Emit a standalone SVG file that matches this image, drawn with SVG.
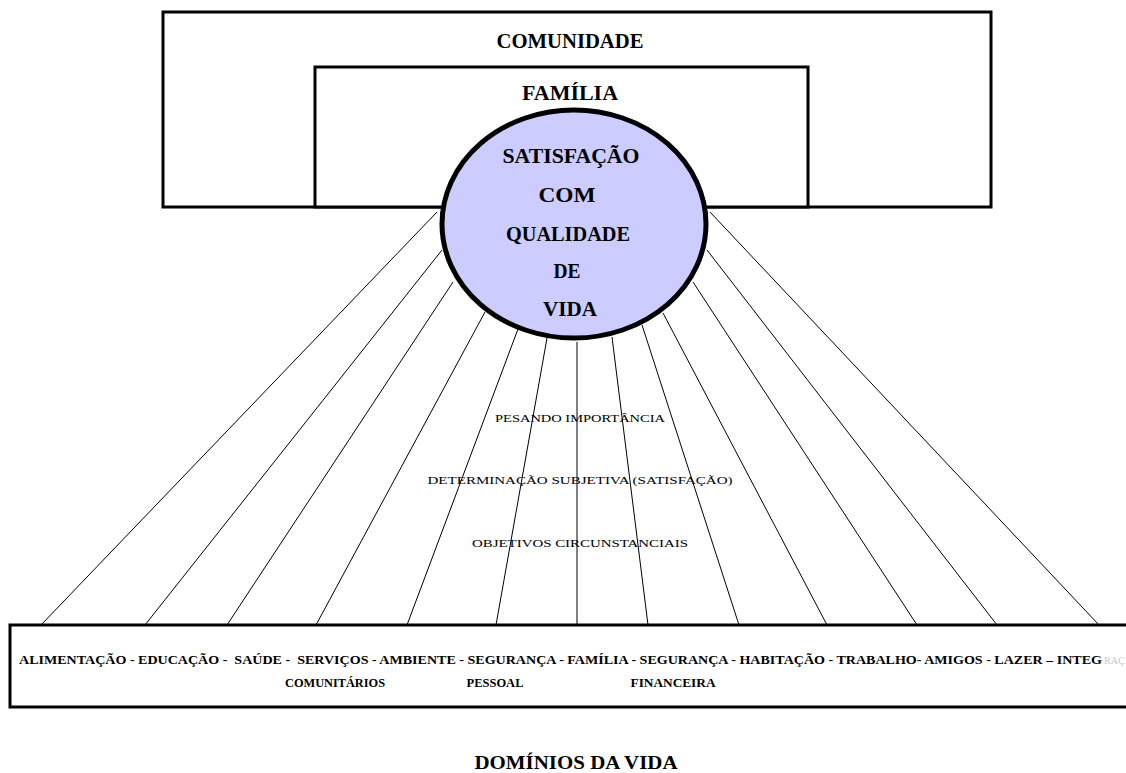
<svg xmlns="http://www.w3.org/2000/svg" width="1126" height="773" viewBox="0 0 1126 773">
<style>
.box{fill:#fff;stroke:#000;stroke-width:3}
.ray{stroke:#000;stroke-width:1;fill:none}
.t{font-family:"Liberation Serif","Times New Roman",serif;fill:#000}
.b{font-weight:bold}
.big{font-size:20px;font-weight:bold;text-anchor:middle}
.mid{font-size:11px;text-anchor:middle}
.dom{font-size:12px;font-weight:bold}
</style>
<g id="comunidade">
<rect class="box" x="163" y="12" width="828" height="195"/>
<text class="t big" x="570" y="48" textLength="147" lengthAdjust="spacingAndGlyphs">COMUNIDADE</text>
</g>
<g id="familia">
<rect class="box" x="315" y="67" width="493" height="140"/>
<text class="t big" x="570" y="100" textLength="96" lengthAdjust="spacingAndGlyphs">FAMÍLIA</text>
</g>
<g id="connectors">
<line class="ray" x1="437" y1="212" x2="41" y2="625"/>
<line class="ray" x1="442" y1="250" x2="145" y2="625"/>
<line class="ray" x1="453" y1="282" x2="227" y2="625"/>
<line class="ray" x1="485" y1="312" x2="316" y2="625"/>
<line class="ray" x1="518" y1="329" x2="407" y2="625"/>
<line class="ray" x1="547" y1="338" x2="496" y2="625"/>
<line class="ray" x1="577" y1="342" x2="577" y2="625"/>
<line class="ray" x1="612" y1="337" x2="648" y2="625"/>
<line class="ray" x1="642" y1="325" x2="739" y2="625"/>
<line class="ray" x1="663" y1="313" x2="827" y2="625"/>
<line class="ray" x1="693" y1="282" x2="917" y2="625"/>
<line class="ray" x1="707" y1="250" x2="997" y2="625"/>
<line class="ray" x1="710" y1="212" x2="1099" y2="625"/>
</g>
<g id="satisfacao">
<ellipse cx="574" cy="224" rx="132" ry="114" fill="#ccccff" stroke="#000" stroke-width="5"/>
<text class="t big" x="571" y="163" textLength="137" lengthAdjust="spacingAndGlyphs">SATISFAÇÃO</text>
<text class="t big" x="567" y="202" textLength="57" lengthAdjust="spacingAndGlyphs">COM</text>
<text class="t big" x="568" y="241" textLength="124" lengthAdjust="spacingAndGlyphs">QUALIDADE</text>
<text class="t big" x="567" y="278" textLength="27" lengthAdjust="spacingAndGlyphs">DE</text>
<text class="t big" x="570" y="316" textLength="54" lengthAdjust="spacingAndGlyphs">VIDA</text>
</g>
<g id="criterios">
<text class="t mid" x="580" y="422" textLength="170" lengthAdjust="spacingAndGlyphs">PESANDO IMPORTÂNCIA</text>
<text class="t mid" x="580" y="484" textLength="305" lengthAdjust="spacingAndGlyphs">DETERMINAÇÃO SUBJETIVA (SATISFAÇÃO)</text>
<text class="t mid" x="580" y="547" textLength="216" lengthAdjust="spacingAndGlyphs">OBJETIVOS CIRCUNSTANCIAIS</text>
</g>
<g id="dominios">
<rect class="box" x="10" y="625" width="1130" height="82"/>
<text class="t dom" x="19" y="664" textLength="1083" lengthAdjust="spacingAndGlyphs" style="white-space:pre">ALIMENTAÇÃO - EDUCAÇÃO -  SAÚDE -  SERVIÇOS - AMBIENTE - SEGURANÇA - FAMÍLIA - SEGURANÇA - HABITAÇÃO - TRABALHO- AMIGOS - LAZER – INTEG</text>
<text class="t" x="1104" y="664" font-size="10" style="fill:#c8c8c8">RAÇ</text>
<text class="t dom" x="335" y="687" text-anchor="middle" textLength="100" lengthAdjust="spacingAndGlyphs">COMUNITÁRIOS</text>
<text class="t dom" x="495" y="687" text-anchor="middle" textLength="57" lengthAdjust="spacingAndGlyphs">PESSOAL</text>
<text class="t dom" x="673" y="687" text-anchor="middle" textLength="85" lengthAdjust="spacingAndGlyphs">FINANCEIRA</text>
</g>
<g id="titulo">
<text class="t b" x="576" y="769" font-size="19" text-anchor="middle" textLength="203" lengthAdjust="spacingAndGlyphs">DOMÍNIOS DA VIDA</text>
</g>
</svg>
